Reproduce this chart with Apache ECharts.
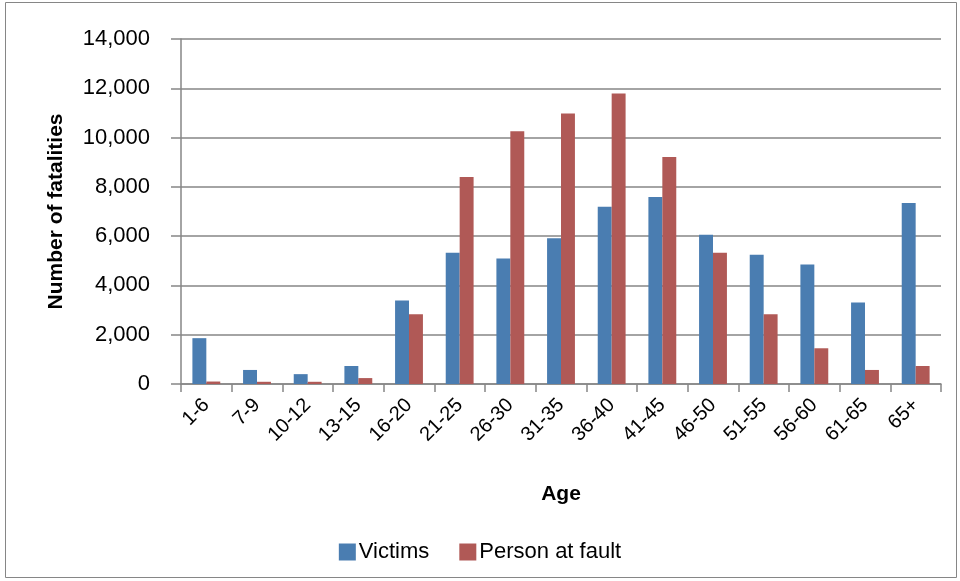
<!DOCTYPE html>
<html><head><meta charset="utf-8">
<script src="https://cdn.jsdelivr.net/npm/echarts@6/dist/echarts.min.js"></script>
<style>html,body{margin:0;padding:0;background:#fff}#c{width:960px;height:581px}</style>
</head><body><div id="c"></div>
<script>
var categories = ['1-6','7-9','10-12','13-15','16-20','21-25','26-30','31-35','36-40','41-45','46-50','51-55','56-60','61-65','65+'];
var victims = [1860, 570, 400, 730, 3390, 5330, 5090, 5910, 7190, 7590, 6060, 5250, 4850, 3310, 7350];
var fault = [100, 90, 90, 240, 2830, 8400, 10260, 10980, 11790, 9210, 5330, 2830, 1450, 570, 730];
var yTicks = {min: 0, max: 14000, interval: 2000};

var FONT = '"Liberation Sans",sans-serif';
var chart = echarts.init(document.getElementById('c'));
chart.setOption({
  animation: false,
  textStyle: {fontFamily: FONT},
  graphic: [{type: 'rect', shape: {x: 5.5, y: 2.5, width: 951, height: 575}, style: {fill: 'none', stroke: '#868686', lineWidth: 1}}],
  grid: {left: 181, right: 19, top: 39, bottom: 197},
  legend: {
    top: 536, left: 'center', itemWidth: 17, itemHeight: 17, itemGap: 30,
    icon: 'rect',
    textStyle: {fontFamily: FONT, fontSize: 22, color: '#000', padding: [0, 0, 0, -2]},
    data: ['Victims', 'Person at fault']
  },
  xAxis: {
    type: 'category', data: categories,
    name: 'Age', nameLocation: 'middle', nameGap: 100,
    nameTextStyle: {fontFamily: FONT, fontSize: 21, fontWeight: 'bold', color: '#000'},
    axisLine: {lineStyle: {color: '#868686', width: 1.5}},
    axisTick: {show: true, alignWithLabel: false, length: 8, lineStyle: {color: '#868686', width: 1.5}},
    axisLabel: {rotate: 45, fontSize: 20, color: '#000', margin: 18, interval: 0}
  },
  yAxis: {
    type: 'value', min: yTicks.min, max: yTicks.max, interval: yTicks.interval,
    name: 'Number of fatalities', nameLocation: 'middle', nameGap: 114, nameRotate: 90,
    nameTextStyle: {fontFamily: FONT, fontSize: 21, fontWeight: 'bold', color: '#000'},
    axisLine: {show: true, lineStyle: {color: '#868686', width: 1.5}},
    axisTick: {show: true, length: 10, inside: false, lineStyle: {color: '#868686', width: 1.5}},
    splitLine: {lineStyle: {color: '#868686', width: 1.5}},
    axisLabel: {fontSize: 22, color: '#000', margin: 31,
      formatter: function (v) { return v.toLocaleString('en-US'); }}
  },
  series: [
    {name: 'Victims', type: 'bar', data: victims, barGap: '0%', barCategoryGap: '45%',
     itemStyle: {color: '#4A7DB1'}},
    {name: 'Person at fault', type: 'bar', data: fault,
     itemStyle: {color: '#B05956'}}
  ]
});
</script></body></html>
